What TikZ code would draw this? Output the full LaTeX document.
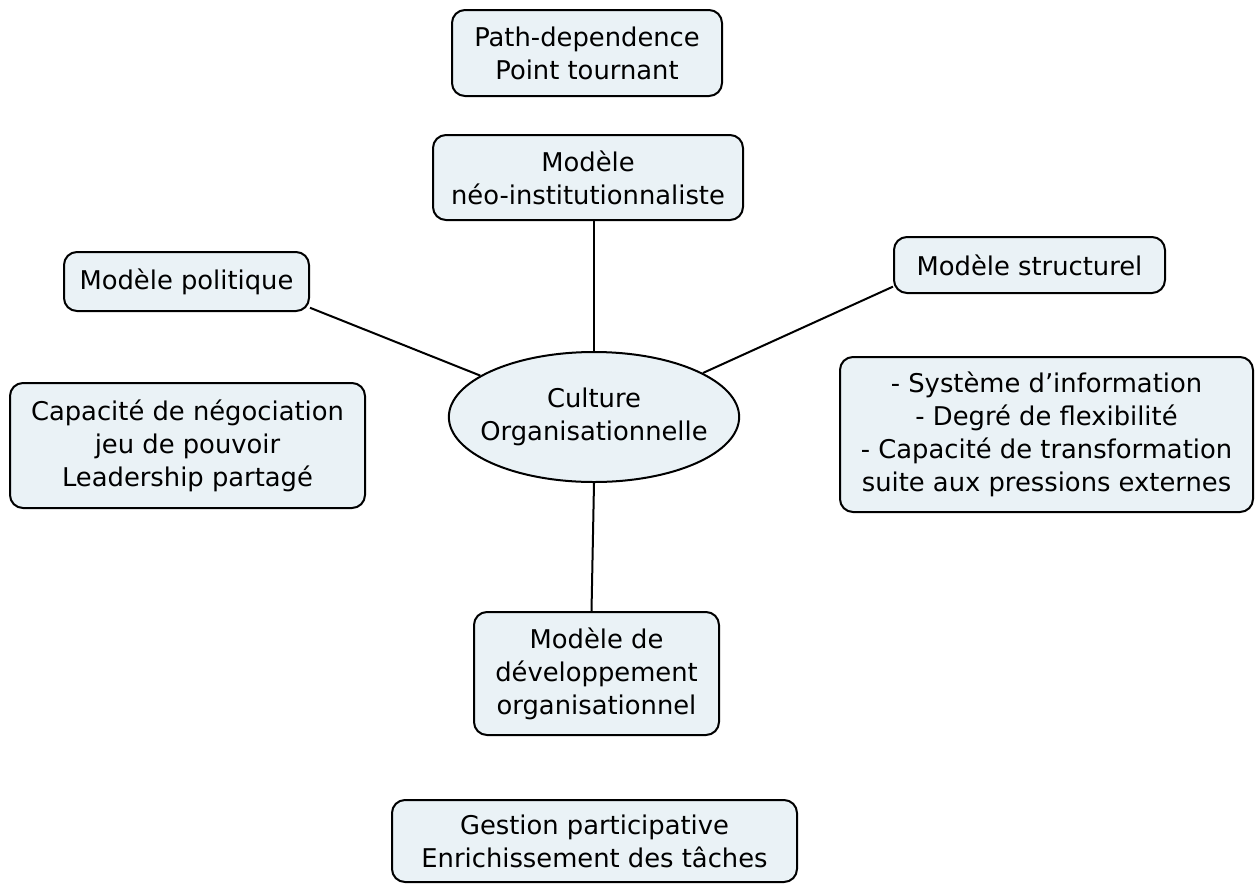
\documentclass[tikz,border=0pt]{standalone}
\usepackage{fontspec}
\setmainfont{DejaVu Sans}
\usetikzlibrary{shapes.geometric}
\definecolor{boxfill}{RGB}{234,242,246}
\tikzset{
  every node/.style={font=\fontsize{25.8}{33}\selectfont, align=center, text=black},
  topic/.style={draw, line width=2pt, rounded corners=13pt, fill=boxfill, inner sep=0pt},
  hub/.style={draw, line width=2pt, ellipse, fill=boxfill, inner xsep=-11pt, inner ysep=0pt},
  link/.style={line width=2pt}
}
\begin{document}
\begin{tikzpicture}[x=1pt, y=-1pt]
\useasboundingbox (0,0) rectangle (1255,884);

% central concept
\node[hub, minimum width=288pt, minimum height=130pt] (cult) at (594,417) {Culture\\Organisationnelle};

% models around the centre
\node[topic, minimum width=310pt, minimum height=85pt] (neo) at (588,177.5) {Modèle\\néo-institutionnaliste};
\node[topic, minimum width=245pt, minimum height=59pt] (pol) at (186.5,281.5) {Modèle politique};
\node[topic, minimum width=271pt, minimum height=56pt] (str) at (1029.5,265) {Modèle structurel};
\node[topic, minimum width=245pt, minimum height=123pt] (dev) at (596.5,673.5) {Modèle de\\développement\\organisationnel};

% descriptive notes
\node[topic, minimum width=270pt, minimum height=86pt] (path) at (587,53) {Path-dependence\\Point tournant};
\node[topic, minimum width=355pt, minimum height=125pt] (nego) at (187.5,445.5) {Capacité de négociation\\jeu de pouvoir\\Leadership partagé};
\node[topic, minimum width=413pt, minimum height=155pt] (sys) at (1046.5,434.5) {- Système d’information\\- Degré de flexibilité\\- Capacité de transformation\\suite aux pressions externes};
\node[topic, minimum width=405pt, minimum height=82pt] (gest) at (594.5,841) {Gestion participative\\Enrichissement des tâches};

% connectors
\draw[link] (cult.north) -- (cult.north |- neo.south);
\draw[link] (pol.-12) -- (cult.160);
\draw[link] (str.189) -- (cult.22);
\draw[link] (cult.south) -- ([xshift=-5pt]dev.north);
\end{tikzpicture}
\end{document}
